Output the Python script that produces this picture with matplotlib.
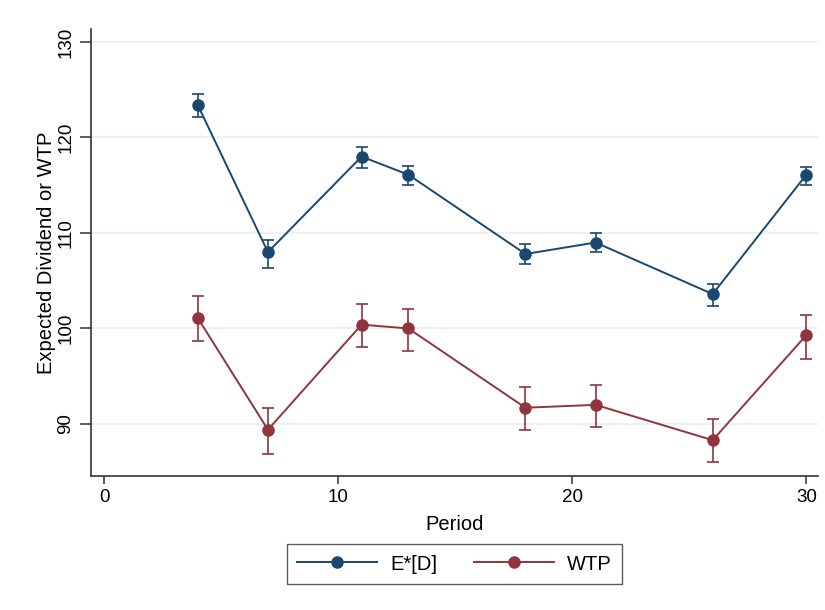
import numpy as np
import matplotlib
matplotlib.use("Agg")
import matplotlib.pyplot as plt

plt.rcParams['font.family'] = ['Liberation Sans', 'DejaVu Sans']

# periods and estimates with 95% confidence bounds
period = [4, 7, 11, 13, 18, 21, 26, 30]

ed_mean = [123.4, 108.0, 118.0, 116.1, 107.8, 109.0, 103.6, 116.1]
ed_lo = [122.1, 106.3, 116.8, 115.0, 106.7, 108.0, 102.4, 115.0]
ed_hi = [124.6, 109.3, 119.0, 117.0, 108.8, 110.0, 104.7, 116.9]

wtp_mean = [101.1, 89.4, 100.4, 100.0, 91.7, 92.0, 88.3, 99.3]
wtp_lo = [98.7, 86.9, 98.1, 97.6, 89.4, 89.7, 86.0, 96.8]
wtp_hi = [103.4, 91.7, 102.6, 102.0, 93.9, 94.1, 90.5, 101.4]

xticks = [0, 10, 20, 30]
yticks = [90, 100, 110, 120, 130]

navy = "#1a476f"
maroon = "#90353b"

fig = plt.figure(figsize=(8.25, 6.1), dpi=100)
ax = fig.add_axes([91/825, 1 - 476/610, (818-91)/825, (476-29)/610])

def draw_series(mean, lo, hi, color, label):
    mean = np.array(mean)
    yerr = [mean - np.array(lo), np.array(hi) - mean]
    ax.errorbar(period, mean, yerr=yerr, fmt='none', ecolor=color,
                elinewidth=1.2, capsize=4, capthick=1.2, zorder=2)
    ax.plot(period, mean, '-o', color=color, lw=1.4, ms=8, label=label, zorder=3)

draw_series(ed_mean, ed_lo, ed_hi, navy, "E*[D]")
draw_series(wtp_mean, wtp_lo, wtp_hi, maroon, "WTP")

ax.set_xlim(-0.56, 30.5)
ax.set_ylim(84.55, 131.36)
ax.set_xticks(xticks)
ax.set_yticks(yticks)
ax.grid(axis='y', color="#eaf2f3", lw=1.4, zorder=0)
ax.set_axisbelow(True)

for s in ['top', 'right']:
    ax.spines[s].set_visible(False)
for s in ['left', 'bottom']:
    ax.spines[s].set_color("#333333")
    ax.spines[s].set_linewidth(1.2)

ax.tick_params(axis='both', length=6, width=1.1, color="#333333", labelsize=13.5)
ax.tick_params(axis='y', length=8, pad=4)
plt.setp(ax.get_yticklabels(), rotation=90, va='center')

ax.set_xlabel("Period", fontsize=14.5, labelpad=6)
ax.set_ylabel("Expected Dividend or WTP", fontsize=14.5, labelpad=1)

leg = fig.legend(loc='center', bbox_to_anchor=(454.5/825, 1 - 564/610), ncol=2,
                 fontsize=14.5, frameon=True, fancybox=False, handlelength=4,
                 handletextpad=0.65, columnspacing=1.8, borderpad=0.5)
leg.get_frame().set_edgecolor("#333333")
leg.get_frame().set_linewidth(1.0)

fig.savefig("out.png", dpi=100)
